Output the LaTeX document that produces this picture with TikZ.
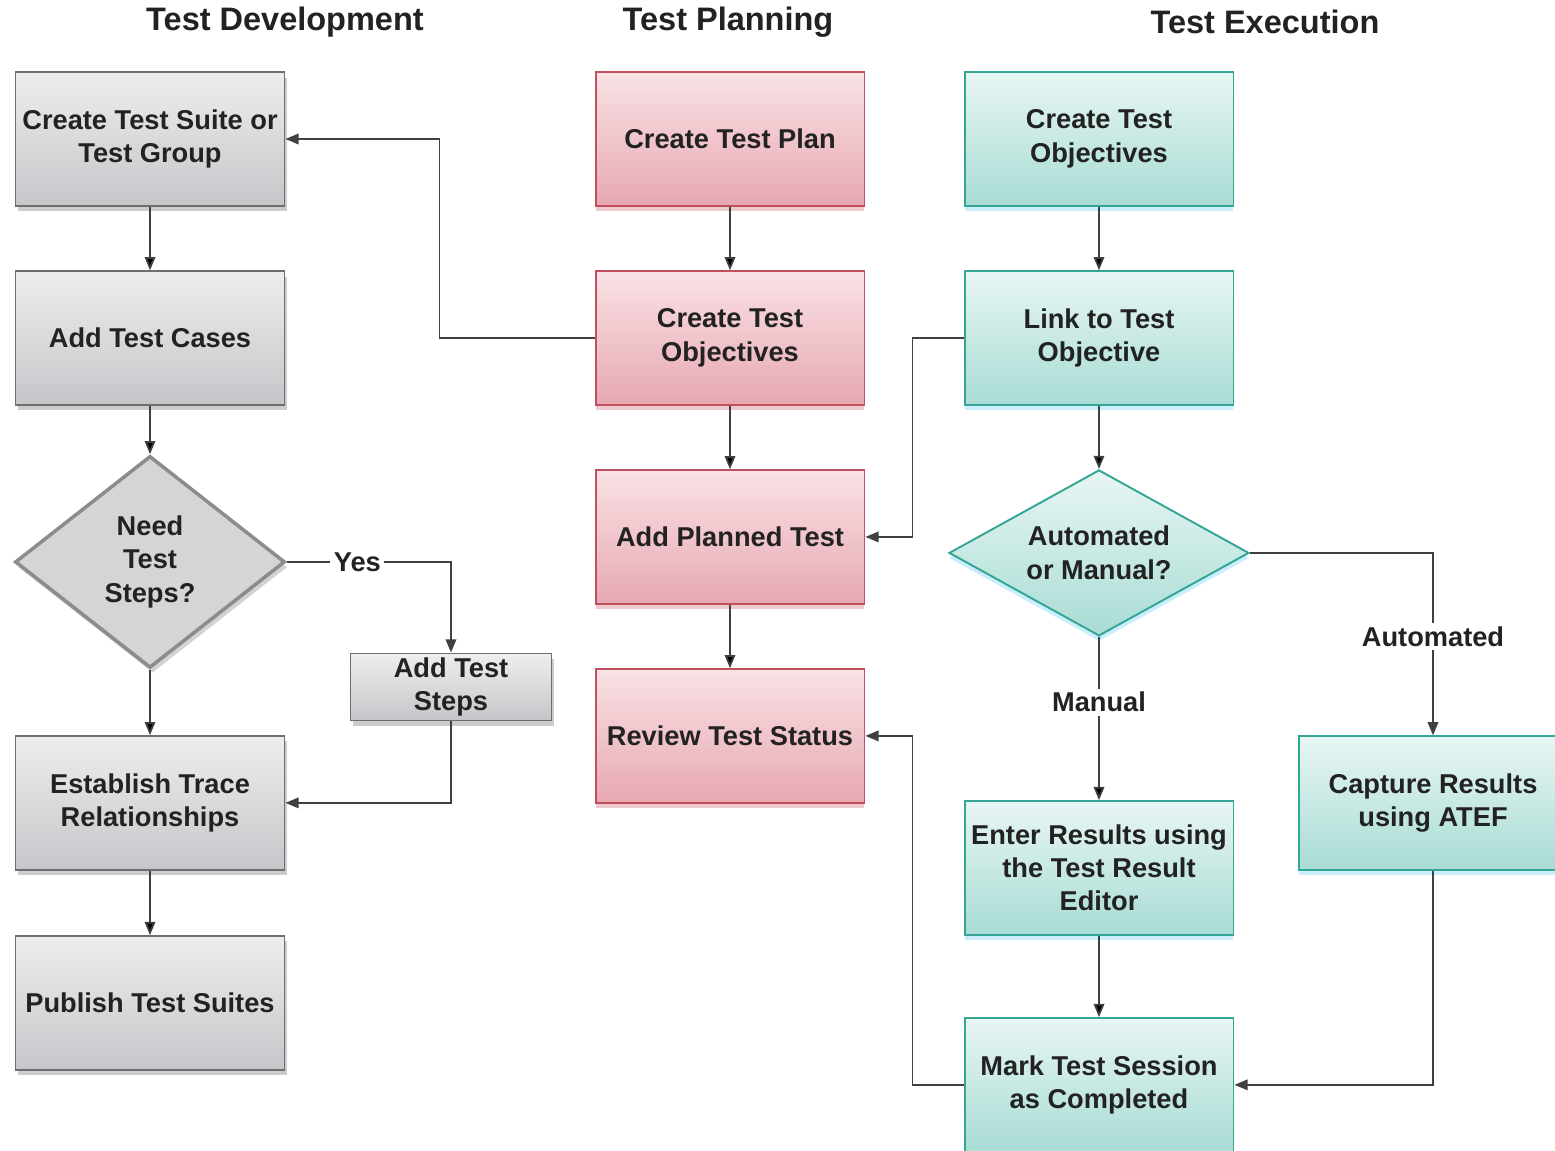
\documentclass[tikz,border=0pt]{standalone}
\usepackage{fontspec}
\setmainfont{Liberation Sans}
\usetikzlibrary{arrows.meta,shapes.geometric,shadows}

\definecolor{grayTop}{HTML}{EEEEEF}
\definecolor{grayBot}{HTML}{C5C6C9}
\definecolor{grayLine}{HTML}{6E6E6E}
\definecolor{diamFill}{HTML}{D5D5D5}
\definecolor{diamLine}{HTML}{8C8C8C}
\definecolor{redTop}{HTML}{F9E2E5}
\definecolor{redBot}{HTML}{E7A8B2}
\definecolor{redLine}{HTML}{C0505E}
\definecolor{tealTop}{HTML}{E8F6F4}
\definecolor{tealBot}{HTML}{A8DCD4}
\definecolor{tealLine}{HTML}{35A596}
\definecolor{wireGray}{HTML}{404040}
\definecolor{ink}{HTML}{222222}

\begin{document}
\begin{tikzpicture}[x=0.02cm,y=-0.02cm,>={Triangle[length=7.5pt,width=6pt]},node distance=3.98cm,
  font=\fontsize{15.5}{19}\selectfont\bfseries,text=ink,
  box/.style={rectangle,draw,align=center,minimum width=5.38cm,minimum height=2.67cm,inner sep=0pt,line width=1.1pt},
  devbox/.style={box,draw=grayLine,top color=grayTop,bottom color=grayBot,
    drop shadow={opacity=.4,shadow xshift=1.5pt,shadow yshift=-3pt}},
  planbox/.style={box,draw=redLine,top color=redTop,bottom color=redBot,
    drop shadow={fill=redLine,opacity=.3,shadow xshift=0pt,shadow yshift=-3pt}},
  execbox/.style={box,draw=tealLine,top color=tealTop,bottom color=tealBot,
    drop shadow={fill=cyan!60,opacity=.35,shadow xshift=0pt,shadow yshift=-3pt}},
  devdiam/.style={diamond,draw=diamLine,fill=diamFill,line width=2pt,align=center,inner sep=0pt,
    aspect=1.27,minimum width=5.4cm,minimum height=4.24cm,
    drop shadow={opacity=.35,shadow xshift=1.5pt,shadow yshift=-3pt}},
  execdiam/.style={diamond,draw=tealLine,top color=tealTop,bottom color=tealBot,line width=1.1pt,
    align=center,inner sep=0pt,aspect=1.8,minimum width=6cm,minimum height=3.32cm,
    drop shadow={fill=cyan!60,opacity=.35,shadow xshift=0pt,shadow yshift=-3pt}},
  head/.style={font=\fontsize{18.5}{22}\selectfont\bfseries},
  lbl/.style={fill=white,inner sep=2pt},
  conn/.style={draw=wireGray,line width=1pt}]
  \useasboundingbox (0,0) rectangle (1555,1150);

  % column headings
  \node[head] (hdev)  at (285,22)  {Test Development};
  \node[head] (hplan) at (728,22)  {Test Planning};
  \node[head] (hexec) at (1265,22) {Test Execution};

  % test development
  \node[devbox] (suite) at (150,139) {Create Test Suite or\\Test Group};
  \node[devbox] (cases) [below of=suite] {Add Test Cases};
  \node[devdiam] (need) [below of=cases,node distance=4.48cm] {Need\\Test\\Steps?};
  \node[devbox] (trace) [below of=need,node distance=4.82cm] {Establish Trace\\Relationships};
  \node[devbox] (publish) [below of=trace,node distance=4cm] {Publish Test Suites};
  \node[devbox,minimum width=4.02cm,minimum height=1.34cm] (addsteps) at (451,687) {Add Test\\Steps};

  % test planning
  \node[planbox] (plan) at (730,139) {Create Test Plan};
  \node[planbox] (tobj) [below of=plan] {Create Test\\Objectives};
  \node[planbox] (planned) [below of=tobj] {Add Planned Test};
  \node[planbox] (review) [below of=planned] {Review Test Status};

  % test execution
  \node[execbox] (eobj) at (1099,139) {Create Test\\Objectives};
  \node[execbox] (link) [below of=eobj] {Link to Test\\Objective};
  \node[execdiam] (am) [below of=link,node distance=4.3cm] {Automated\\or Manual?};
  \node[execbox] (enter) [below of=am,node distance=6.3cm] {Enter Results using\\the Test Result\\Editor};
  \node[execbox] (mark) [below of=enter,node distance=4.34cm] {Mark Test Session\\as Completed};
  \node[execbox] (capture) at (1433,803) {Capture Results\\using ATEF};

  \path[conn,->]
    (suite) edge (cases)
    (cases) edge (need)
    (need)  edge (trace)
    (trace) edge (publish)
    (plan)  edge (tobj)
    (tobj)  edge (planned)
    (planned) edge (review)
    (eobj)  edge (link)
    (link)  edge (am)
    (am)    edge node[lbl,pos=0.4]{Manual} (enter)
    (enter) edge (mark)
  ;
  \draw[conn,->] (tobj.west) -- ++(-155,0) |- (suite.east);
  \draw[conn,->] (need.east) -| node[lbl,pos=0.215]{Yes} (addsteps.north);
  \draw[conn,->] (addsteps.south) |- (trace.east);
  \draw[conn,->] (link.west) -- ++(-51,0) |- (planned.east);
  \draw[conn,->] (am.east) -| node[lbl,pos=0.73]{Automated} (capture.north);
  \draw[conn,->] (capture.south) |- (mark.east);
  \draw[conn,->] (mark.west) -- ++(-51,0) |- (review.east);
\end{tikzpicture}
\end{document}
